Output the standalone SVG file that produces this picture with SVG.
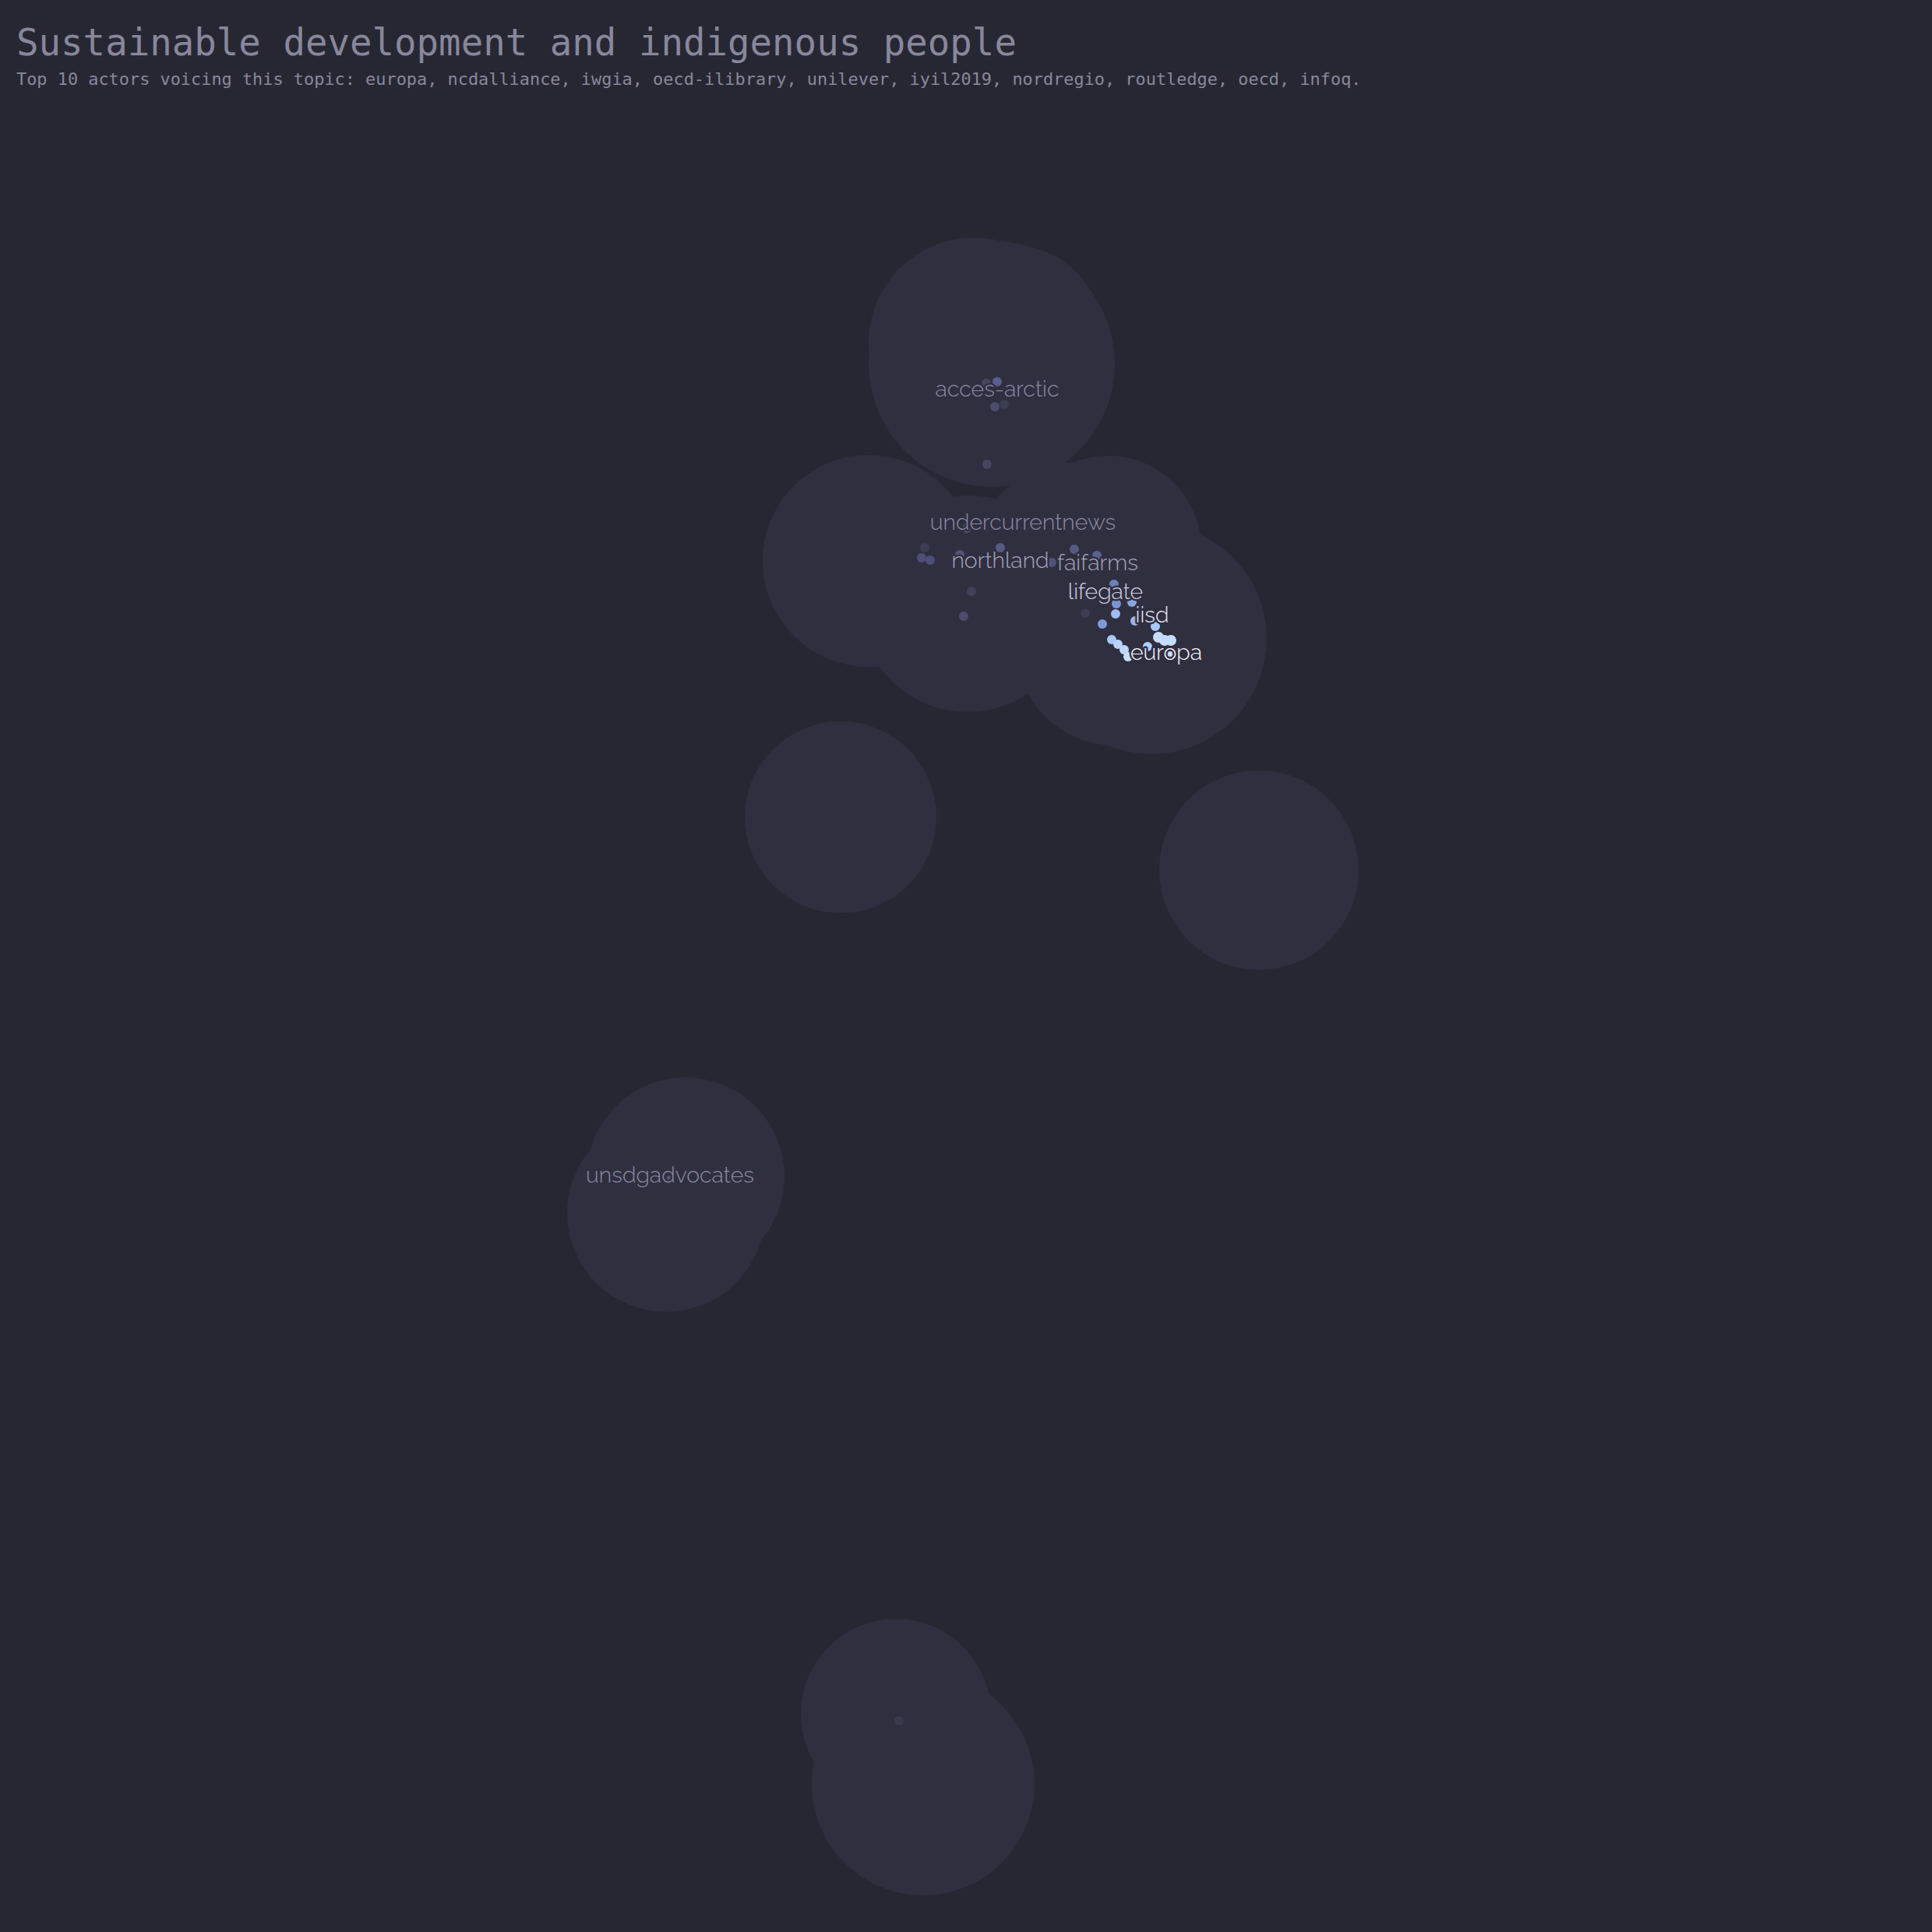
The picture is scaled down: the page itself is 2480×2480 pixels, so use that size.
<svg xmlns="http://www.w3.org/2000/svg" width="2480" height="2480" viewBox="0 0 2480 2480">
<style>
.bg{fill:#272733}
.blob{fill:#302f40}
.title{font-family:"DejaVu Sans Mono","Liberation Mono",monospace;fill:#88879c}
.lbl{font-family:"Raleway","Lato","Open Sans",sans-serif;font-weight:300;font-size:28.5px;text-anchor:middle;stroke:#302f40;stroke-width:5px;stroke-linejoin:round;paint-order:stroke}
.c1{fill:#8b88a4}
.c2{fill:#a6a4bc}
.c3{fill:#d0d0e0}
.c4{fill:#e6e6f0}
.c5{fill:#fafaff}
</style>
<rect class="bg" x="0" y="0" width="2480" height="2480"/>
<text class="title" x="21" y="71" font-size="47.4">Sustainable development and indigenous people</text>
<text class="title" x="21" y="109" font-size="21.9">Top 10 actors voicing this topic: europa, ncdalliance, iwgia, oecd-ilibrary, unilever, iyil2019, nordregio, routledge, oecd, infoq.</text>

<g id="clusters">
  <g id="cluster-main">
    <circle class="blob" cx="1273" cy="467" r="158"/>
    <circle class="blob" cx="1250" cy="440" r="135"/>
    <circle class="blob" cx="1300" cy="430" r="115"/>
    <circle class="blob" cx="1115" cy="720" r="136"/>
    <circle class="blob" cx="1242" cy="775" r="139"/>
    <circle class="blob" cx="1384" cy="735" r="142"/>
    <circle class="blob" cx="1423" cy="704" r="119"/>
    <circle class="blob" cx="1478" cy="820" r="148"/>
    <circle class="blob" cx="1431" cy="830" r="127"/>
  </g>
  <g id="cluster-left">
    <circle class="blob" cx="1079" cy="1049" r="123"/>
  </g>
  <g id="cluster-right">
    <circle class="blob" cx="1616" cy="1117" r="128"/>
  </g>
  <g id="cluster-unsdg">
    <circle class="blob" cx="880" cy="1510" r="127"/>
    <circle class="blob" cx="855" cy="1557" r="127"/>
  </g>
  <g id="cluster-bottom">
    <circle class="blob" cx="1150" cy="2200" r="122"/>
    <circle class="blob" cx="1185" cy="2290" r="143"/>
  </g>
</g>

<g id="points">
  <g id="pts-acces-arctic">
    <circle cx="1266" cy="492" r="6" fill="#44475f"/>
    <circle cx="1280" cy="490" r="6" fill="#5a5f8c"/>
    <circle cx="1289" cy="519" r="6" fill="#3c3c52"/>
    <circle cx="1277" cy="522" r="6" fill="#4a4d70"/>
    <circle cx="1267" cy="596" r="6" fill="#45465f"/>
  </g>
  <g id="pts-undercurrentnews">
    <circle cx="1241" cy="678" r="6" fill="#50547a"/>
    <circle cx="1187" cy="703" r="6" fill="#3c3c55"/>
    <circle cx="1183" cy="716" r="6" fill="#4c5078"/>
    <circle cx="1194" cy="719" r="6" fill="#4c5078"/>
    <circle cx="1284" cy="703" r="6" fill="#565a80"/>
    <circle cx="1232" cy="712" r="6" fill="#50547a"/>
    <circle cx="1247" cy="759" r="6" fill="#404058"/>
    <circle cx="1237" cy="791" r="6" fill="#4a4d6c"/>
  </g>
  <g id="pts-faifarms">
    <circle cx="1379" cy="705" r="6" fill="#565a80"/>
    <circle cx="1408" cy="713" r="6" fill="#5a6090"/>
    <circle cx="1350" cy="722" r="6" fill="#50547a"/>
    <circle cx="1393" cy="787" r="6" fill="#3c3c52"/>
  </g>
  <g id="pts-europa">
    <circle cx="1430" cy="750" r="6" fill="#6a80b8"/>
    <circle cx="1433" cy="775" r="6" fill="#7a94cc"/>
    <circle cx="1453" cy="773" r="6" fill="#8aa4dc"/>
    <circle cx="1432" cy="788" r="6" fill="#a0bcf0"/>
    <circle cx="1415" cy="801" r="6" fill="#7f9bd6"/>
    <circle cx="1457" cy="797" r="6" fill="#9ab4e8"/>
    <circle cx="1483" cy="804" r="6" fill="#a8c8f8"/>
    <circle cx="1487" cy="818" r="7" fill="#c4dcff"/>
    <circle cx="1495" cy="822" r="7" fill="#c4dcff"/>
    <circle cx="1503" cy="822" r="7" fill="#c4dcff"/>
    <circle cx="1427" cy="821" r="6" fill="#a8c8f8"/>
    <circle cx="1435" cy="827" r="6" fill="#b8d4fc"/>
    <circle cx="1443" cy="834" r="6" fill="#bcd8ff"/>
    <circle cx="1448" cy="843" r="6" fill="#c8e0ff"/>
    <circle cx="1473" cy="830" r="6" fill="#b0ccf8"/>
    <circle cx="1502" cy="840" r="5" fill="#c8e0ff"/>
  </g>
  <g id="pts-other">
    <circle cx="859" cy="1512" r="3" fill="#505680"/>
    <circle cx="1154" cy="2209" r="6" fill="#3a3a50"/>
  </g>
</g>

<g id="labels">
  <g id="node-acces-arctic"><text class="lbl c1" x="1280" y="509">acces-arctic</text></g>
  <g id="node-undercurrentnews"><text class="lbl c1" x="1313" y="680">undercurrentnews</text></g>
  <g id="node-northland"><text class="lbl c2" x="1284" y="729">northland</text></g>
  <g id="node-faifarms"><text class="lbl c2" x="1409" y="732">faifarms</text></g>
  <g id="node-lifegate"><text class="lbl c3" x="1419" y="769">lifegate</text></g>
  <g id="node-iisd"><text class="lbl c4" x="1479" y="799">iisd</text></g>
  <g id="node-europa"><text class="lbl c5" x="1497" y="847">europa</text></g>
  <g id="node-unsdgadvocates"><text class="lbl c1" x="860" y="1518">unsdgadvocates</text></g>
</g>
</svg>
